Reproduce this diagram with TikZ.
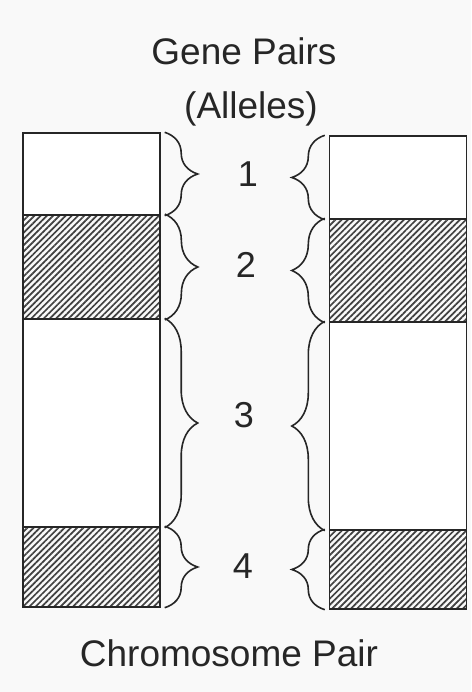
\documentclass[tikz,border=0pt]{standalone}
\usepackage{fontspec}
\setmainfont{Liberation Sans}
\usepackage{tikz}
\usetikzlibrary{patterns.meta,decorations.pathreplacing}

\tikzset{
  band/.style={draw=black!85, line width=1.4pt, minimum width=137pt, inner sep=0pt},
  plainband/.style={band, fill=white},
  hatchband/.style={band, pattern={Lines[angle=45,distance=4.4pt,line width=1.7pt]}, pattern color=black!75},
  allelebrace/.style={decorate, decoration={brace, amplitude=33pt, aspect=0.5}, line width=1.6pt, draw=black!85},
  label/.style={font=\fontsize{36}{40}\selectfont, anchor=base, text=black!85},
  caption/.style={font=\fontsize{37}{42}\selectfont, anchor=base, text=black!85}
}

\begin{document}
\begin{tikzpicture}[x=1pt,y=-1pt]
\useasboundingbox (0,0) rectangle (471,692);
\fill[gray!5] (0,0) rectangle (471,692);

% left chromosome
\node[plainband, minimum height=82pt]  (L1) at (91.5,174) {};
\node[hatchband, minimum height=104pt] (L2) at (91.5,267) {};
\node[plainband, minimum height=208pt] (L3) at (91.5,423) {};
\node[hatchband, minimum height=80pt]  (L4) at (91.5,567) {};

% right chromosome
\node[plainband, minimum height=83pt]  (R1) at (398,177.5) {};
\node[hatchband, minimum height=103pt] (R2) at (398,270.5) {};
\node[plainband, minimum height=208pt] (R3) at (398,426) {};
\node[hatchband, minimum height=79pt]  (R4) at (398,569.5) {};

% braces
\foreach \i in {1,...,4} {
  \draw[allelebrace] ([xshift=4pt]L\i.north east) -- ([xshift=4pt]L\i.south east);
  \draw[allelebrace] ([xshift=-4pt]R\i.south west) -- ([xshift=-4pt]R\i.north west);
}

% labels
\node[caption] (title) at (244,65) {Gene Pairs};
\node[caption] (alleles) at (251,119) {(Alleles)};
\node[label] (n1) at (248,187) {1};
\node[label] (n2) at (246,277) {2};
\node[label] (n3) at (244,427) {3};
\node[label] (n4) at (243,578) {4};
\node[caption] (pair) at (229,666) {Chromosome Pair};
\end{tikzpicture}
\end{document}
